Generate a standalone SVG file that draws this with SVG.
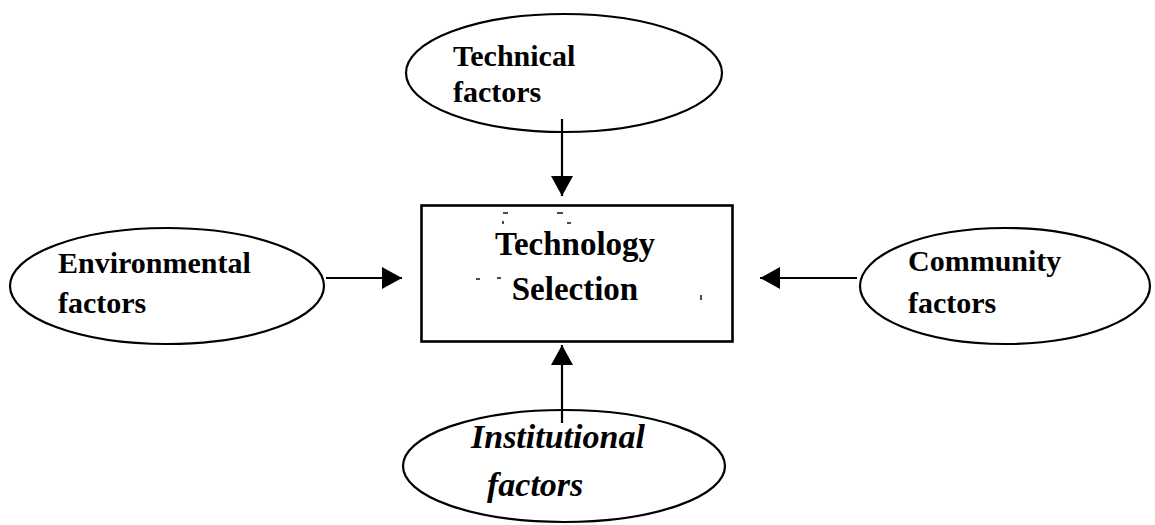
<svg xmlns="http://www.w3.org/2000/svg" width="1155" height="525" viewBox="0 0 1155 525">
  <style>
    .shape { fill: #ffffff; stroke: #000000; stroke-width: 2.2; }
    .box { fill: #ffffff; stroke: #000000; stroke-width: 2.6; }
    .label { font-family: "Liberation Serif", "Times New Roman", serif; font-weight: bold; font-size: 30px; fill: #000000; }
    .label-box { font-size: 33px; }
    .label-it { font-style: italic; font-size: 34px; }
    .edge { stroke: #000000; stroke-width: 2.2; fill: none; }
    .speck { stroke: #000000; stroke-width: 1.4; }
  </style>
  <defs>
    <marker id="head" viewBox="0 0 20 22" refX="20" refY="11" markerWidth="20" markerHeight="22" markerUnits="userSpaceOnUse" orient="auto">
      <path d="M0,0 L20,11 L0,22 Z" fill="#000000"/>
    </marker>
  </defs>

  <rect width="1155" height="525" fill="#ffffff"/>

  <!-- central box -->
  <g id="technology-selection">
    <rect class="box" x="421.5" y="205.5" width="311" height="136"/>
    <text class="label label-box" x="575" y="255" text-anchor="middle">Technology</text>
    <text class="label label-box" x="575" y="300" text-anchor="middle">Selection</text>
    <!-- small specks around the title -->
    <line class="speck" x1="503" y1="213" x2="508" y2="213"/>
    <line class="speck" x1="503" y1="221" x2="503" y2="224"/>
    <line class="speck" x1="557" y1="213" x2="563" y2="213"/>
    <line class="speck" x1="567" y1="223" x2="571" y2="223"/>
    <line class="speck" x1="476" y1="279" x2="480" y2="279"/>
    <line class="speck" x1="497" y1="278" x2="501" y2="278"/>
    <line class="speck" x1="701" y1="295" x2="701" y2="300"/>
  </g>

  <!-- top factor -->
  <g id="technical-factors">
    <ellipse class="shape" cx="564" cy="73" rx="158" ry="59"/>
    <text class="label" x="453" y="66">Technical</text>
    <text class="label" x="453" y="102">factors</text>
  </g>

  <!-- left factor -->
  <g id="environmental-factors">
    <ellipse class="shape" cx="167" cy="286" rx="157" ry="58"/>
    <text class="label" x="58" y="273">Environmental</text>
    <text class="label" x="58" y="313">factors</text>
  </g>

  <!-- right factor -->
  <g id="community-factors">
    <ellipse class="shape" cx="1005" cy="286" rx="145" ry="58"/>
    <text class="label" x="908" y="271">Community</text>
    <text class="label" x="908" y="313">factors</text>
  </g>

  <!-- bottom factor -->
  <g id="institutional-factors">
    <ellipse class="shape" cx="564" cy="466" rx="161" ry="56"/>
    <text class="label label-it" x="471" y="448">Institutional</text>
    <text class="label label-it" x="487" y="496">factors</text>
  </g>

  <!-- connectors pointing into the box -->
  <g id="connectors">
    <line class="edge" x1="562" y1="119" x2="562" y2="196" marker-end="url(#head)"/>
    <line class="edge" x1="326" y1="278" x2="402" y2="278" marker-end="url(#head)"/>
    <line class="edge" x1="857" y1="278" x2="760" y2="278" marker-end="url(#head)"/>
    <line class="edge" x1="562" y1="423" x2="562" y2="345" marker-end="url(#head)"/>
  </g>
</svg>
